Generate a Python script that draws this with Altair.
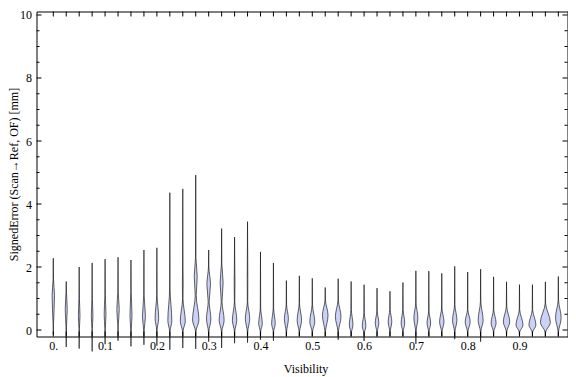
import altair as alt
import pandas as pd

# Violin centres (Visibility)
positions = [0.000, 0.025, 0.050, 0.075, 0.100, 0.125, 0.150, 0.175, 0.200, 0.225,
             0.250, 0.275, 0.300, 0.325, 0.350, 0.375, 0.400, 0.425, 0.450, 0.475,
             0.500, 0.525, 0.550, 0.575, 0.600, 0.625, 0.650, 0.675, 0.700, 0.725,
             0.750, 0.775, 0.800, 0.825, 0.850, 0.875, 0.900, 0.925, 0.950, 0.975]

# Violin profiles: (signed error [mm], half-density in px)
profiles = [
    [(-0.15, 0), (0.2, 0.4), (1.1, 1.7), (1.6, 0.4), (2.28, 0)],
    [(-0.54, 0), (0.1, 0.4), (0.65, 1.5), (1.2, 0.4), (1.54, 0)],
    [(-0.59, 0), (0.05, 0.4), (0.45, 1.3), (1.0, 0.4), (2.0, 0)],
    [(-0.68, 0), (0.05, 0.4), (0.45, 1.3), (1.0, 0.4), (2.13, 0)],
    [(-0.45, 0), (0.05, 0.4), (0.5, 1.4), (1.1, 0.4), (2.25, 0)],
    [(-0.34, 0), (0.15, 0.4), (0.65, 1.7), (1.2, 0.4), (2.31, 0)],
    [(-0.52, 0), (0.0, 0.4), (0.45, 1.5), (1.2, 0.4), (2.22, 0)],
    [(-0.47, 0), (0.0, 0.4), (0.42, 2.0), (1.1, 0.4), (2.54, 0)],
    [(-0.5, 0), (0.0, 0.4), (0.37, 2.3), (1.1, 0.4), (2.61, 0)],
    [(-0.63, 0), (-0.05, 0.4), (0.3, 2.5), (1.3, 0.5), (4.36, 0)],
    [(-0.57, 0), (-0.05, 0.4), (0.28, 3.0), (1.0, 0.7), (1.5, 0.9), (2.0, 0.5), (4.48, 0)],
    [(-0.6, 0), (-0.05, 0.4), (0.32, 3.7), (1.1, 1.0), (1.7, 2.0), (2.3, 0.5), (4.92, 0)],
    [(-0.37, 0), (-0.05, 0.4), (0.35, 2.7), (0.9, 1.0), (1.45, 2.3), (2.0, 0.4), (2.54, 0)],
    [(-0.57, 0), (-0.05, 0.4), (0.31, 3.0), (0.9, 0.9), (1.5, 2.0), (2.1, 0.4), (3.22, 0)],
    [(-0.42, 0), (-0.05, 0.4), (0.31, 2.7), (0.9, 0.7), (1.5, 0.9), (2.0, 0.4), (2.95, 0)],
    [(-0.4, 0), (-0.05, 0.4), (0.36, 2.7), (0.9, 0.7), (1.6, 0.8), (2.2, 0.4), (3.44, 0)],
    [(-0.31, 0), (-0.05, 0.4), (0.2, 2.3), (0.7, 0.5), (2.48, 0)],
    [(-0.34, 0), (-0.05, 0.4), (0.2, 2.3), (0.7, 0.5), (2.13, 0)],
    [(-0.2, 0), (-0.05, 0.4), (0.36, 2.5), (0.8, 0.4), (1.57, 0)],
    [(-0.2, 0), (-0.05, 0.4), (0.31, 2.7), (0.84, 0.4), (1.72, 0)],
    [(-0.2, 0), (-0.05, 0.4), (0.26, 3.0), (0.8, 0.4), (1.64, 0)],
    [(-0.2, 0), (-0.05, 0.4), (0.47, 3.3), (0.95, 0.4), (1.35, 0)],
    [(-0.31, 0), (-0.05, 0.4), (0.42, 3.3), (0.95, 0.4), (1.63, 0)],
    [(-0.2, 0), (-0.08, 0.4), (0.16, 2.3), (0.65, 0.4), (1.54, 0)],
    [(-0.35, 0), (-0.1, 0.4), (0.12, 2.3), (0.55, 0.4), (1.44, 0)],
    [(-0.2, 0), (-0.05, 0.4), (0.22, 2.3), (0.6, 0.4), (1.33, 0)],
    [(-0.2, 0), (-0.05, 0.4), (0.27, 2.3), (0.65, 0.4), (1.23, 0)],
    [(-0.2, 0), (-0.05, 0.4), (0.22, 2.3), (0.65, 0.4), (1.51, 0)],
    [(-0.44, 0), (-0.05, 0.4), (0.39, 2.5), (0.85, 0.4), (1.88, 0)],
    [(-0.2, 0), (-0.05, 0.4), (0.22, 2.3), (0.6, 0.4), (1.87, 0)],
    [(-0.2, 0), (-0.05, 0.4), (0.26, 2.7), (0.7, 0.4), (1.80, 0)],
    [(-0.29, 0), (-0.05, 0.4), (0.31, 2.7), (0.8, 0.4), (2.02, 0)],
    [(-0.2, 0), (-0.05, 0.4), (0.26, 3.0), (0.65, 0.4), (1.84, 0)],
    [(-0.37, 0), (-0.05, 0.4), (0.31, 3.0), (0.9, 0.4), (1.93, 0)],
    [(-0.2, 0), (-0.05, 0.4), (0.22, 3.0), (0.65, 0.4), (1.69, 0)],
    [(-0.2, 0), (-0.05, 0.4), (0.26, 3.7), (0.75, 0.4), (1.53, 0)],
    [(-0.2, 0), (-0.07, 0.4), (0.16, 4.0), (0.65, 0.4), (1.44, 0)],
    [(-0.2, 0), (-0.07, 0.4), (0.16, 4.0), (0.65, 0.4), (1.44, 0)],
    [(-0.2, 0), (-0.07, 0.4), (0.24, 5.5), (0.85, 0.4), (1.53, 0)],
    [(-0.2, 0), (-0.05, 0.4), (0.39, 3.3), (0.95, 0.4), (1.70, 0)],
]

x_tick_values = positions
x_label_values = [0.0, 0.1, 0.2, 0.3, 0.4, 0.5, 0.6, 0.7, 0.8, 0.9]
y_label_values = [0, 2, 4, 6, 8, 10]
y_major_ticks = [0, 2, 4, 6, 8, 10]
y_minor_ticks = [0.5, 1, 1.5, 2.5, 3, 3.5, 4.5, 5, 5.5, 6.5, 7, 7.5, 8.5, 9, 9.5]

X_TITLE = "Visibility"
Y_TITLE = "SignedError (Scan\u2192Ref, OF) [mm]"

# The page body is 560 px wide: keep the svg within it (no shrinking).
W, H = 531, 325
PPU = 518.0                      # px per unit of Visibility, as in the reference
XMIN = -0.0324
XMAX = XMIN + W / PPU
YMAX = 10.111
YMIN = -0.206
STROKE = 1.0


def geom_half(w):
    # measured outer half-width includes half the outline stroke
    if w <= 0:
        return 0.0
    return max(w - STROKE / 2, 0.22)


rows = []
for vid, (pos, prof) in enumerate(zip(positions, profiles)):
    for y, w in prof:
        g = geom_half(w)
        rows.append({"vid": vid, "y": y, "x_lo": pos - g / PPU, "x_hi": pos + g / PPU})
df = pd.DataFrame(rows)

xs = alt.Scale(domain=[XMIN, XMAX], nice=False, zero=False)
ys = alt.Scale(domain=[YMIN, YMAX], nice=False, zero=False)

yaxis = alt.Axis(values=y_label_values, grid=False, domain=False, ticks=False,
                 tickSize=0, labelPadding=5, format="d",
                 titleX=-19, titleY=H / 2, titleBaseline="alphabetic",
                 titleAlign="center")
xaxis = alt.Axis(values=x_label_values, grid=False, domain=False, ticks=False,
                 tickSize=0, labelPadding=4,
                 labelExpr="datum.value == 0 ? '0.' : format(datum.value, '.1f')",
                 titleY=35.5, titleBaseline="alphabetic", titleX=269,
                 titleAlign="center")

violins = alt.Chart(df).mark_area(
    orient="horizontal", interpolate="monotone",
    fill="#ccd2f7", fillOpacity=1, stroke="#000000", strokeOpacity=0.6,
    strokeWidth=STROKE
).encode(
    y=alt.Y("y:Q", scale=ys, title=Y_TITLE, axis=yaxis),
    x=alt.X("x_lo:Q", scale=xs, title=X_TITLE, axis=xaxis),
    x2="x_hi:Q",
    detail="vid:N",
)

xt = pd.DataFrame({"v": x_tick_values})
ymaj = pd.DataFrame({"v": y_major_ticks})
ymin_ = pd.DataFrame({"v": y_minor_ticks})


def xrule(y1, y2):
    return alt.Chart(xt).mark_rule(color="black", strokeWidth=1).encode(
        x=alt.X("v:Q", scale=xs, title=X_TITLE, axis=xaxis),
        y=alt.value(y1), y2=alt.value(y2))


def yrule(data, x1, x2):
    return alt.Chart(data).mark_rule(color="black", strokeWidth=1).encode(
        y=alt.Y("v:Q", scale=ys, title=Y_TITLE, axis=yaxis),
        x=alt.value(x1), x2=alt.value(x2))


chart = alt.layer(
    violins,
    xrule(H - 5, H), xrule(0, 5),
    yrule(ymaj, 0, 5), yrule(ymin_, 0, 3),
    yrule(ymaj, W - 5, W), yrule(ymin_, W - 3, W),
).properties(
    width=W, height=H,
    autosize=alt.AutoSizeParams(type="none"),
    padding={"left": 28.5, "top": 3.5, "right": 0.5, "bottom": 40},
    background="white",
).configure_view(
    stroke="black", strokeWidth=1
).configure_axis(
    labelFont="Liberation Serif", titleFont="Liberation Serif",
    labelFontSize=12, titleFontSize=12, labelColor="black", titleColor="black",
    titleFontWeight="normal",
)

chart.save("out.html", embed_options={"renderer": "svg", "actions": False})
